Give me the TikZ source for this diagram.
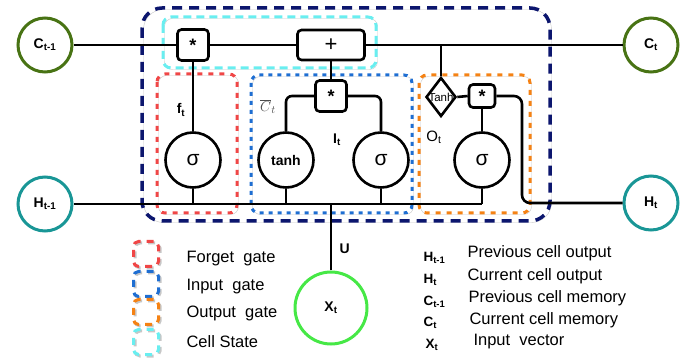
\documentclass[tikz,border=0pt]{standalone}
\usepackage{fontspec}
\setmainfont{Liberation Sans}
\usepackage{xcolor}
\usetikzlibrary{shapes.geometric, positioning}

\definecolor{cellgreen}{RGB}{72,115,20}
\definecolor{hidteal}{RGB}{25,150,150}
\definecolor{ingreen}{RGB}{70,232,70}
\definecolor{cellnavy}{RGB}{12,22,110}
\definecolor{statecyan}{RGB}{105,238,240}
\definecolor{forgetred}{RGB}{240,70,70}
\definecolor{inputblue}{RGB}{30,110,210}
\definecolor{outorange}{RGB}{245,130,20}

\begin{document}
\begin{tikzpicture}[
    x=1pt, y=-1pt,
    wire/.style={line width=2.6pt},
    statenode/.style={circle,draw=#1,line width=3pt,minimum size=54pt,inner sep=0pt,
        font=\fontsize{14}{16}\selectfont\bfseries},
    gatenode/.style={circle,draw=black,line width=2.6pt,minimum size=55pt,inner sep=0pt,
        font=\fontsize{21}{22}\selectfont},
    opbox/.style={rectangle,rounded corners=4pt,draw=black,line width=2.6pt,
        minimum width=31pt,minimum height=31pt,inner sep=0pt,
        font=\fontsize{18}{18}\selectfont\bfseries},
    greyshade/.style={preaction={draw=black!22,transform canvas={shift={(1.5,1.5)}}}},
    gateframe/.style={draw=#1,line width=3pt,rounded corners=8pt,greyshade},
    lbl/.style={font=\fontsize{14}{16}\selectfont\bfseries},
    legtext/.style={font=\fontsize{16.5}{18}\selectfont,anchor=west},
    legsym/.style={font=\fontsize{13.5}{15}\selectfont\bfseries,anchor=west}
]
\useasboundingbox (0,0) rectangle (686,358);

%--------------------------------------------------------------------
% Group frames
%--------------------------------------------------------------------
\draw[gateframe=cellnavy,line width=3.5pt,rounded corners=20pt,dash pattern=on 10pt off 7pt]
    (142,8) rectangle (550,221);
\draw[gateframe=statecyan,dash pattern=on 8pt off 5pt] (163,17) rectangle (376,68);
\draw[gateframe=forgetred,dash pattern=on 5pt off 6pt] (157,74) rectangle (237,213);
\draw[gateframe=inputblue,dash pattern=on 4pt off 5pt] (251,75) rectangle (412,213);
\draw[gateframe=outorange,dash pattern=on 5pt off 6pt] (419,75) rectangle (530,213);

%--------------------------------------------------------------------
% States and input
%--------------------------------------------------------------------
\node[statenode=cellgreen] (cprev) at (45,45)   {C\textsubscript{t-1}};
\node[statenode=cellgreen] (cnext) at (651,45)  {C\textsubscript{t}};
\node[statenode=hidteal]   (hprev) at (45,204)  {H\textsubscript{t-1}};
\node[statenode=hidteal]   (hnext) at (651,203) {H\textsubscript{t}};
\node[statenode=ingreen,minimum size=72pt] (xin) at (331,308) {X\textsubscript{t}};

%--------------------------------------------------------------------
% Forget gate
%--------------------------------------------------------------------
\node[opbox]    (fmul) at (193,45)  {*};
\node[gatenode] (fsig) at (193,160) {σ};
\node[lbl]      (flbl) at (181,110) {f\textsubscript{t}};

%--------------------------------------------------------------------
% Input gate
%--------------------------------------------------------------------
\node[opbox,minimum width=67pt,minimum height=30pt,font=\fontsize{22}{22}\selectfont]
    (cadd) at (331,45) {+};
\node[opbox]    (imul)  at (331,96)  {*};
\node[gatenode,font=\fontsize{14}{16}\selectfont\bfseries] (itanh) at (286,160) {tanh};
\node[gatenode] (isig)  at (381,160) {σ};
\node[text=black!70,font=\fontsize{15}{16}\selectfont] (cbar) at (268,107) {$\overline{C}_t$};
\node[lbl]      (ilbl)  at (337,140) {I\textsubscript{t}};

%--------------------------------------------------------------------
% Output gate
%--------------------------------------------------------------------
\node[diamond,draw,line width=2.6pt,minimum width=30pt,minimum height=39pt,inner sep=0pt,
      label={[font=\fontsize{11.5}{11}\selectfont]center:Tanh}] (otanh) at (441,97) {};
\node[opbox,minimum width=26pt,minimum height=23pt] (omul) at (482,96) {*};
\node[gatenode] (osig) at (482,160) {σ};
\node[font=\fontsize{15}{16}\selectfont] (olbl) at (434,137) {O\textsubscript{t}};
\coordinate (oturn) at (522,203);

%--------------------------------------------------------------------
% Wires
%--------------------------------------------------------------------
\draw[wire] (cprev.east) -- (fmul.west);
\draw[wire] (fmul.east) -- (cadd.west);
\draw[wire] (cadd.east) -- (cnext.west);
\draw[wire] (otanh.north) -- (otanh |- cnext);
\draw[wire] (fmul.south) -- (fsig.north);
\draw[wire] (cadd.south) -- (imul.north);
\draw[wire,rounded corners=6pt] (itanh.north) |- (imul.west);
\draw[wire,rounded corners=6pt] (isig.north) |- (imul.east);
\draw[wire] (otanh.east) -- (omul.west);
\draw[wire] (omul.south) -- (osig.north);
\draw[wire,rounded corners=8pt] (omul.east) -| (oturn) -- (hnext.west);

\draw[wire] (hprev.east) -- (osig |- hprev);
\draw[wire] (fsig.south)  -- (fsig |- hprev);
\draw[wire] (itanh.south) -- (itanh |- hprev);
\draw[wire] (isig.south)  -- (isig |- hprev);
\draw[wire] (osig.south)  -- (osig |- hprev);
\draw[wire] (xin.north) -- node[pos=0.33,right=4pt,lbl] {U} (xin |- hprev);

%--------------------------------------------------------------------
% Legend
%--------------------------------------------------------------------
\tikzset{legbox/.style={draw=#1,line width=3pt,rounded corners=5pt,minimum size=25pt,greyshade}}
\node[legbox=forgetred,dash pattern=on 7pt off 6pt]  (lgforget) at (146,254) {};
\node[legbox=inputblue,dash pattern=on 7pt off 6pt]  (lginput)  at (146,284) {};
\node[legbox=outorange,dash pattern=on 7pt off 6pt]  (lgoutput) at (146,312) {};
\node[legbox=statecyan,dash pattern=on 7pt off 6pt]  (lgstate)  at (146,342) {};

\node[legtext] (tforget) at (183,259) {Forget\ \ gate};
\node[legtext] (tinput)  at (183,287) {Input\ \ gate};
\node[legtext] (toutput) at (183,313) {Output\ \ gate};
\node[legtext] (tstate)  at (183,342) {Cell State};

\node[legsym] (shprev) at (420,258) {H\textsubscript{t-1}};
\node[legsym] (shnext) at (420,280) {H\textsubscript{t}};
\node[legsym] (scprev) at (420,302) {C\textsubscript{t-1}};
\node[legsym] (scnext) at (420,323) {C\textsubscript{t}};
\node[legsym] (sxin)   at (422,345) {X\textsubscript{t}};

\node[legtext] (dhprev) at (464,253) {Previous cell output};
\node[legtext] (dhnext) at (464,276) {Current cell output};
\node[legtext] (dcprev) at (465,298) {Previous cell memory};
\node[legtext] (dcnext) at (466,320) {Current cell memory};
\node[legtext] (dxin)   at (470,342) {Input\ \ vector};

\end{tikzpicture}
\end{document}
